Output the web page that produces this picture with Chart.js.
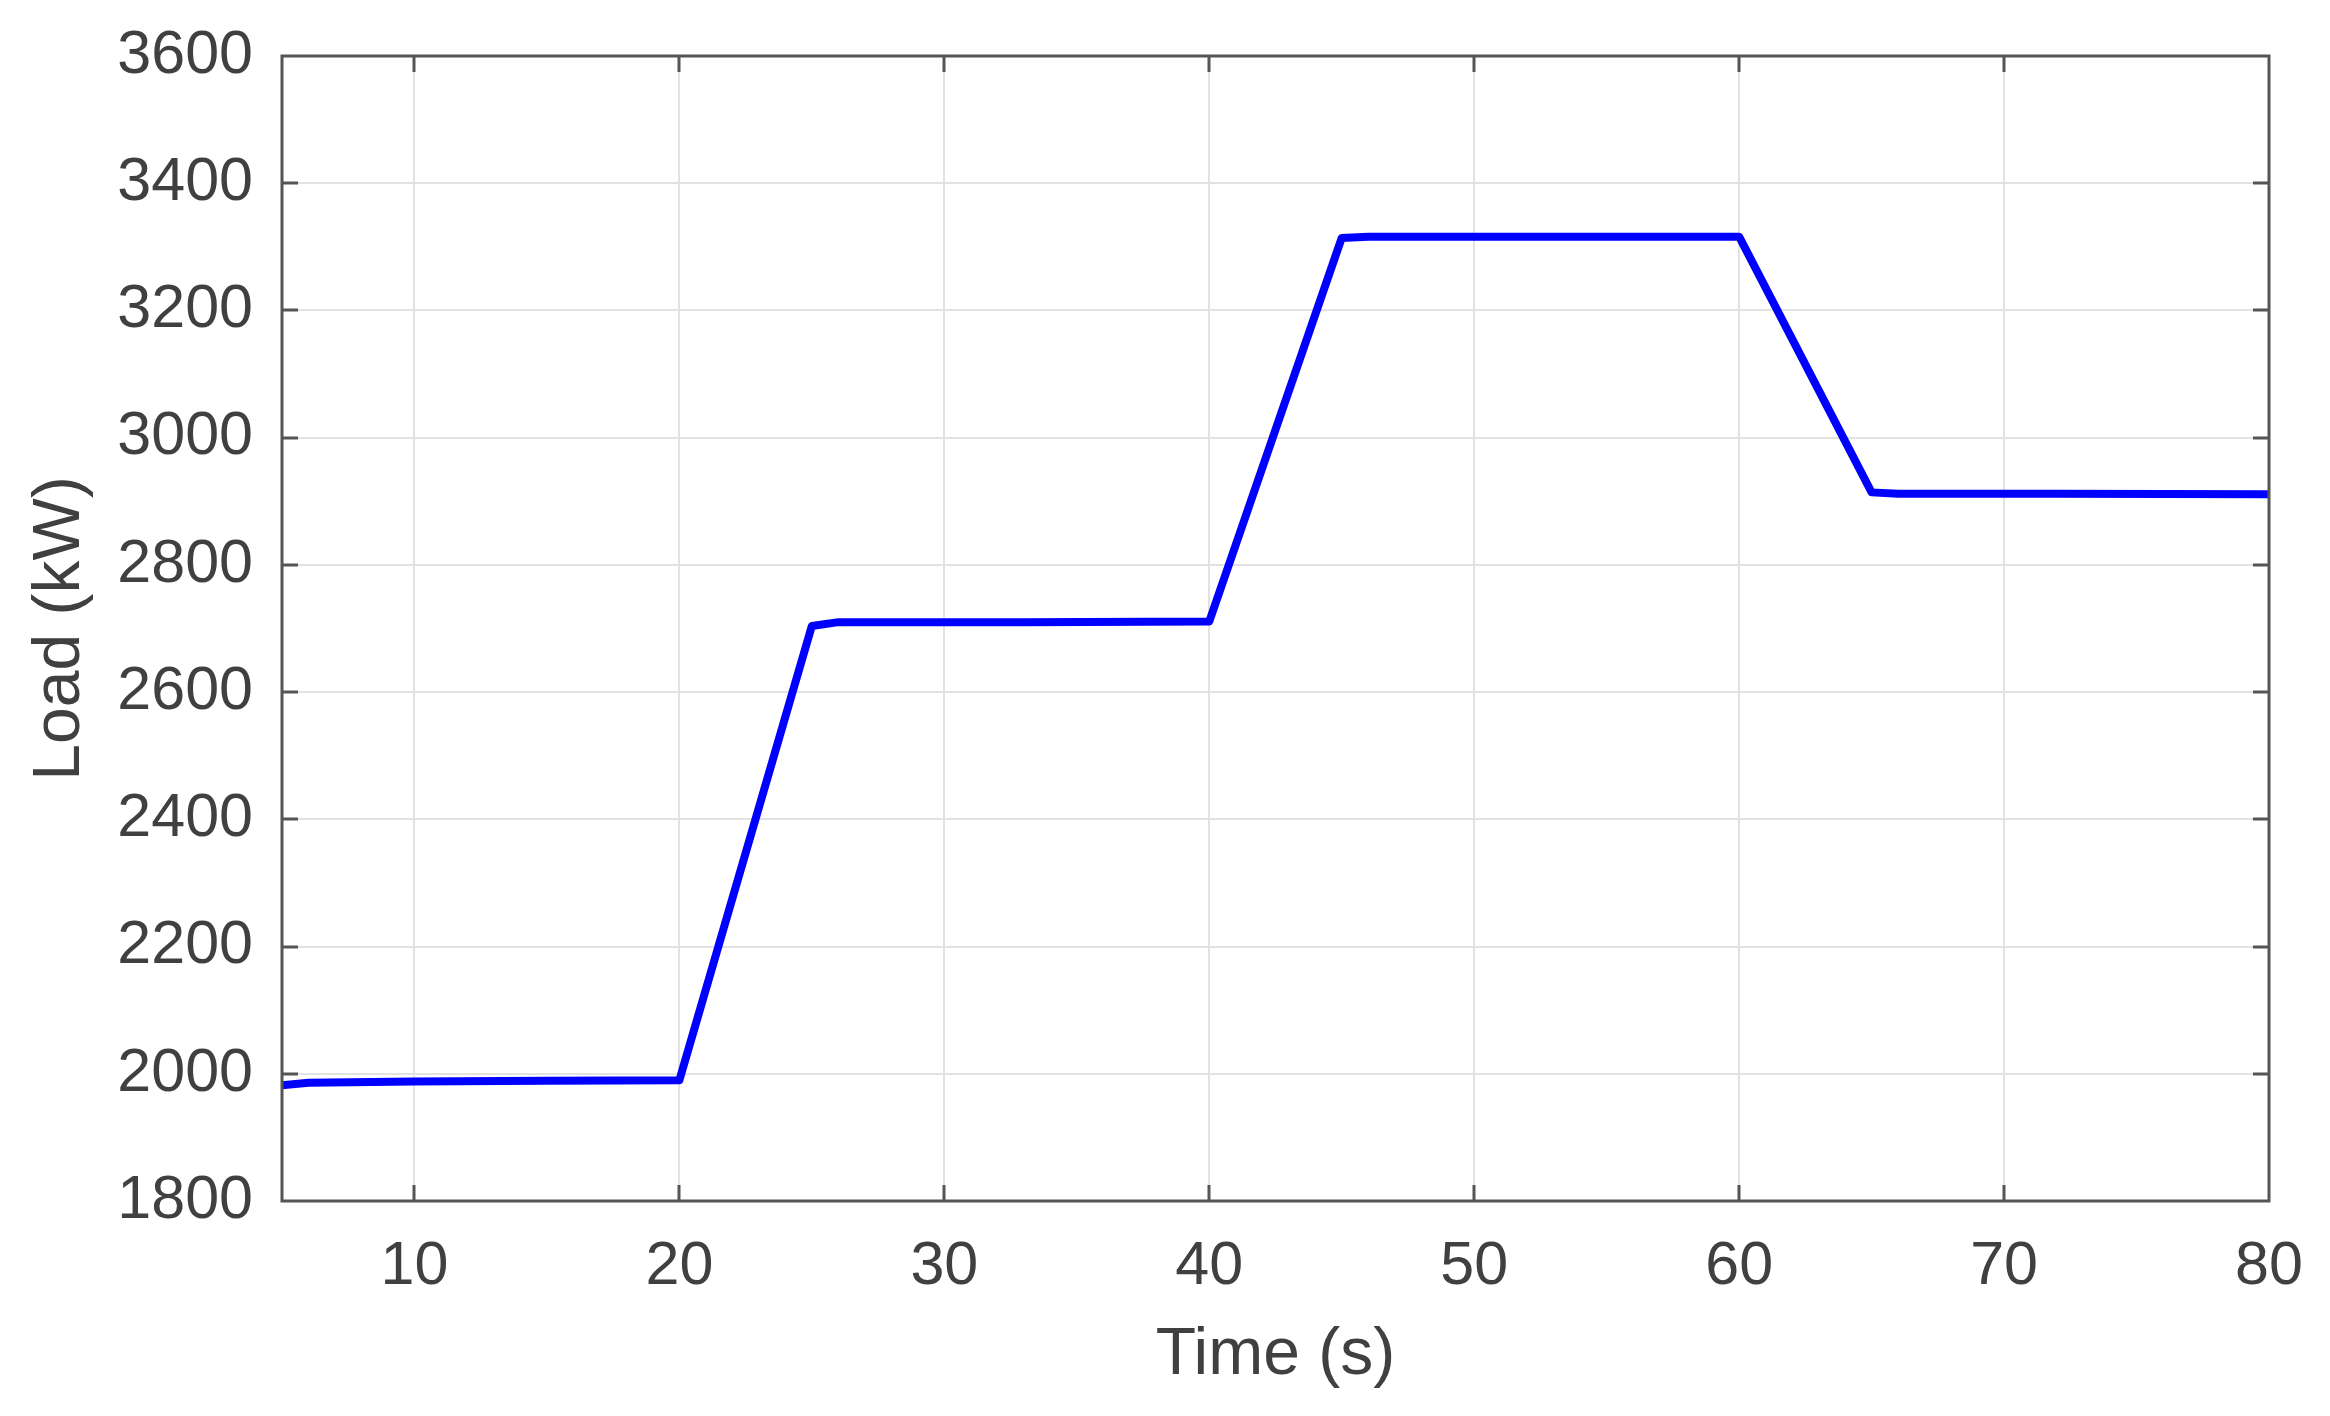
<!DOCTYPE html>
<html>
<head>
<meta charset="utf-8">
<title>Load (kW)</title>
<script src="https://cdn.jsdelivr.net/npm/chart.js@4.4.0/dist/chart.umd.min.js"></script>
<style>
	html, body { margin: 0; padding: 0; background: #fff; }
	#wrap { width: 2330px; height: 1416px; }
</style>
</head>
<body>
<div id="wrap"><canvas id="loadChart" width="2330" height="1416"></canvas></div>
<script>
// time axis (s) and load readings (kW)
var timeS  = [5,    6,    10,   15,   20,   25,   26,   33,   40,   45,   46,   53,   60,   65,   66,   72,   80];
var loadKW = [1982, 1986, 1988, 1989, 1990, 2704, 2710, 2710, 2711, 3314, 3316, 3316, 3316, 2914, 2912, 2912, 2911];

var xTicks = [10, 20, 30, 40, 50, 60, 70, 80];
var yMin = 1800, yMax = 3600, yStep = 200;

var AREA = { left: 282, right: 2269, top: 56, bottom: 1201 };
var W = 2330, H = 1416;

var axisColor = '#555555';
var textColor = '#404040';
var gridColor = '#e2e2e2';

var points = timeS.map(function(t, i) { return { x: t, y: loadKW[i] }; });

// matlab-ish box around the axes with inward ticks on all four sides
var boxPlugin = {
	id: 'axesBox',
	afterDatasetsDraw: function(chart) {
		var ctx = chart.ctx, a = chart.chartArea;
		var xs = chart.scales.x, ys = chart.scales.y;
		var tl = 16;
		ctx.save();
		ctx.strokeStyle = axisColor;
		ctx.lineWidth = 3;
		ctx.beginPath();
		xs.ticks.forEach(function(t) {
			var px = Math.round(xs.getPixelForValue(t.value));
			if (px <= a.left + 1 || px >= a.right - 1) return;
			ctx.moveTo(px, a.bottom); ctx.lineTo(px, a.bottom - tl);
			ctx.moveTo(px, a.top); ctx.lineTo(px, a.top + tl);
		});
		ys.ticks.forEach(function(t) {
			var py = Math.round(ys.getPixelForValue(t.value));
			if (py <= a.top + 1 || py >= a.bottom - 1) return;
			ctx.moveTo(a.left, py); ctx.lineTo(a.left + tl, py);
			ctx.moveTo(a.right, py); ctx.lineTo(a.right - tl, py);
		});
		ctx.stroke();
		ctx.strokeRect(a.left, a.top, a.right - a.left, a.bottom - a.top);
		ctx.restore();
	}
};

var ctx = document.getElementById('loadChart').getContext('2d');
var loadChart = new Chart(ctx, {
	type: 'line',
	data: {
		datasets: [{
			label: 'Load',
			data: points,
			borderColor: '#0000ff',
			backgroundColor: '#0000ff',
			borderWidth: 8,
			borderJoinStyle: 'round',
			borderCapStyle: 'round',
			pointRadius: 0,
			tension: 0,
			fill: false
		}]
	},
	options: {
		responsive: false,
		animation: false,
		devicePixelRatio: 1,
		layout: { padding: { top: AREA.top, right: W - AREA.right, left: 0, bottom: 0 } },
		plugins: {
			legend: { display: false },
			tooltip: { enabled: false }
		},
		scales: {
			x: {
				type: 'linear',
				min: 5,
				max: 80,
				afterBuildTicks: function(scale) {
					scale.ticks = xTicks.map(function(v) { return { value: v }; });
				},
				afterFit: function(scale) {
					scale.height = H - AREA.bottom;
					scale.paddingLeft = 0;
					scale.paddingRight = 0;
				},
				grid: { color: gridColor, lineWidth: 2, drawTicks: false },
				border: { display: false },
				ticks: {
					color: textColor,
					padding: 30,
					maxRotation: 0,
					callback: function(v) { return String(v); },
					font: { family: 'Liberation Sans, Arial, sans-serif', size: 61 }
				},
				title: {
					display: true,
					text: 'Time (s)',
					color: textColor,
					padding: { top: 0, bottom: 21 },
					font: { family: 'Liberation Sans, Arial, sans-serif', size: 66 }
				}
			},
			y: {
				min: yMin,
				max: yMax,
				afterFit: function(scale) {
					scale.width = AREA.left;
					scale.paddingTop = 0;
					scale.paddingBottom = 0;
				},
				grid: { color: gridColor, lineWidth: 2, drawTicks: false },
				border: { display: false },
				ticks: {
					stepSize: yStep,
					color: textColor,
					padding: 29,
					callback: function(v) { return String(v); },
					font: { family: 'Liberation Sans, Arial, sans-serif', size: 61 }
				},
				title: {
					display: true,
					text: 'Load (kW)',
					color: textColor,
					padding: { top: 21, bottom: 0 },
					font: { family: 'Liberation Sans, Arial, sans-serif', size: 66 }
				}
			}
		}
	},
	plugins: [boxPlugin]
});
</script>
</body>
</html>
